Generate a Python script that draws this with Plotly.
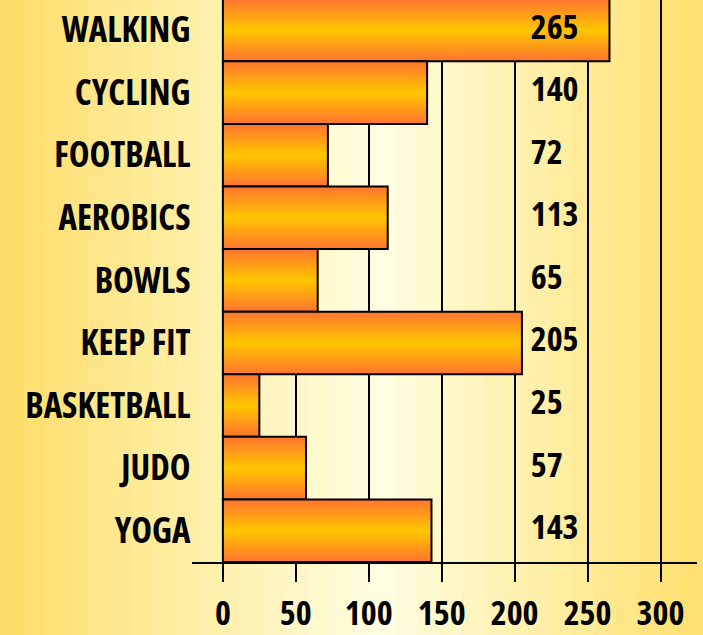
import plotly.graph_objects as go

# ---- data ----
categories = ["WALKING", "CYCLING", "FOOTBALL", "AEROBICS", "BOWLS",
              "KEEP FIT", "BASKETBALL", "JUDO", "YOGA"]
values = [265, 140, 72, 113, 65, 205, 25, 57, 143]
x_tick_vals = [0, 50, 100, 150, 200, 250, 300]
x_tick_text = ["0", "50", "100", "150", "200", "250", "300"]

# ---- styles ----
FONT = "Open Sans, Liberation Sans, sans-serif"
FSIZE = 35
W, H = 703, 635
LABEL_X = 211
BAR_HALF = 0.5
bar_scale = [[0, "#FF7430"], [0.5, "#FFC600"], [1, "#FF7430"]]

n = len(categories)
ypos = [n - 1 - i for i in range(n)]  # first category at top

fig = go.Figure()

for cat, v, y in zip(categories, values, ypos):
    fig.add_trace(go.Scatter(
        x=[0, v, v, 0, 0],
        y=[y - BAR_HALF, y - BAR_HALF, y + BAR_HALF, y + BAR_HALF, y - BAR_HALF],
        mode="lines", fill="toself",
        fillgradient=dict(type="vertical", colorscale=bar_scale),
        line=dict(color="black", width=2),
        name=cat, showlegend=False, hoverinfo="skip",
    ))

fig.add_trace(go.Scatter(
    x=[LABEL_X] * n, y=ypos, mode="text",
    text=[str(v) for v in values], textposition="middle right",
    textfont=dict(family=FONT, size=34, color="black", weight="bold"),
    showlegend=False, hoverinfo="skip",
))

# ---- background banded gradient ----
def lerp(c1, c2, t):
    return tuple(round(a + (b - a) * t) for a, b in zip(c1, c2))

left_c = (255, 222, 104)
peak_c = (255, 254, 226)
right_c = (255, 223, 108)
peak_x = 380
strip = 22
shapes = []
x = 0
while x < W:
    cx = x + strip / 2
    if cx <= peak_x:
        c = lerp(left_c, peak_c, cx / peak_x)
    else:
        c = lerp(peak_c, right_c, (cx - peak_x) / (W - peak_x))
    shapes.append(dict(type="rect", xref="paper", yref="paper",
                       x0=x / W, x1=min(x + strip + 1, W) / W, y0=0, y1=1,
                       fillcolor="rgb(%d,%d,%d)" % c, line=dict(width=0),
                       layer="below"))
    x += strip

fig.update_layout(
    width=W, height=H,
    margin=dict(l=0, r=0, t=0, b=0, pad=0),
    paper_bgcolor="rgba(0,0,0,0)", plot_bgcolor="rgba(0,0,0,0)",
    shapes=shapes,
    font=dict(family=FONT, color="black"),
    xaxis=dict(
        domain=[191.5 / W, 697 / W], range=[-21.5, 325],
        tickvals=x_tick_vals, ticktext=x_tick_text,
        showgrid=True, gridcolor="black", gridwidth=2,
        zeroline=True, zerolinecolor="black", zerolinewidth=2,
        showline=True, linecolor="black", linewidth=2,
        ticks="outside", ticklen=18, tickwidth=2, tickcolor="black",
        ticklabelstandoff=2,
        tickfont=dict(family=FONT, size=34, color="black", weight="bold"),
        automargin=False, fixedrange=True,
    ),
    yaxis=dict(
        domain=[1 - 562 / H, 1], range=[-0.5, 8.48],
        tickvals=ypos, ticktext=categories,
        showgrid=False, zeroline=False, showline=False, ticks="",
        tickfont=dict(family=FONT, size=FSIZE, color="black", weight="bold"),
        automargin=False, fixedrange=True,
    ),
    showlegend=False,
)

page_css = (
    "var s=document.createElement('style');"
    "s.textContent='html,body{margin:0;padding:0;}"
    " svg text{font-stretch:75% !important;}';"
    "document.head.appendChild(s);"
)
fig.write_html("out.html", post_script=page_css,
               config={"displayModeBar": False, "staticPlot": True})
